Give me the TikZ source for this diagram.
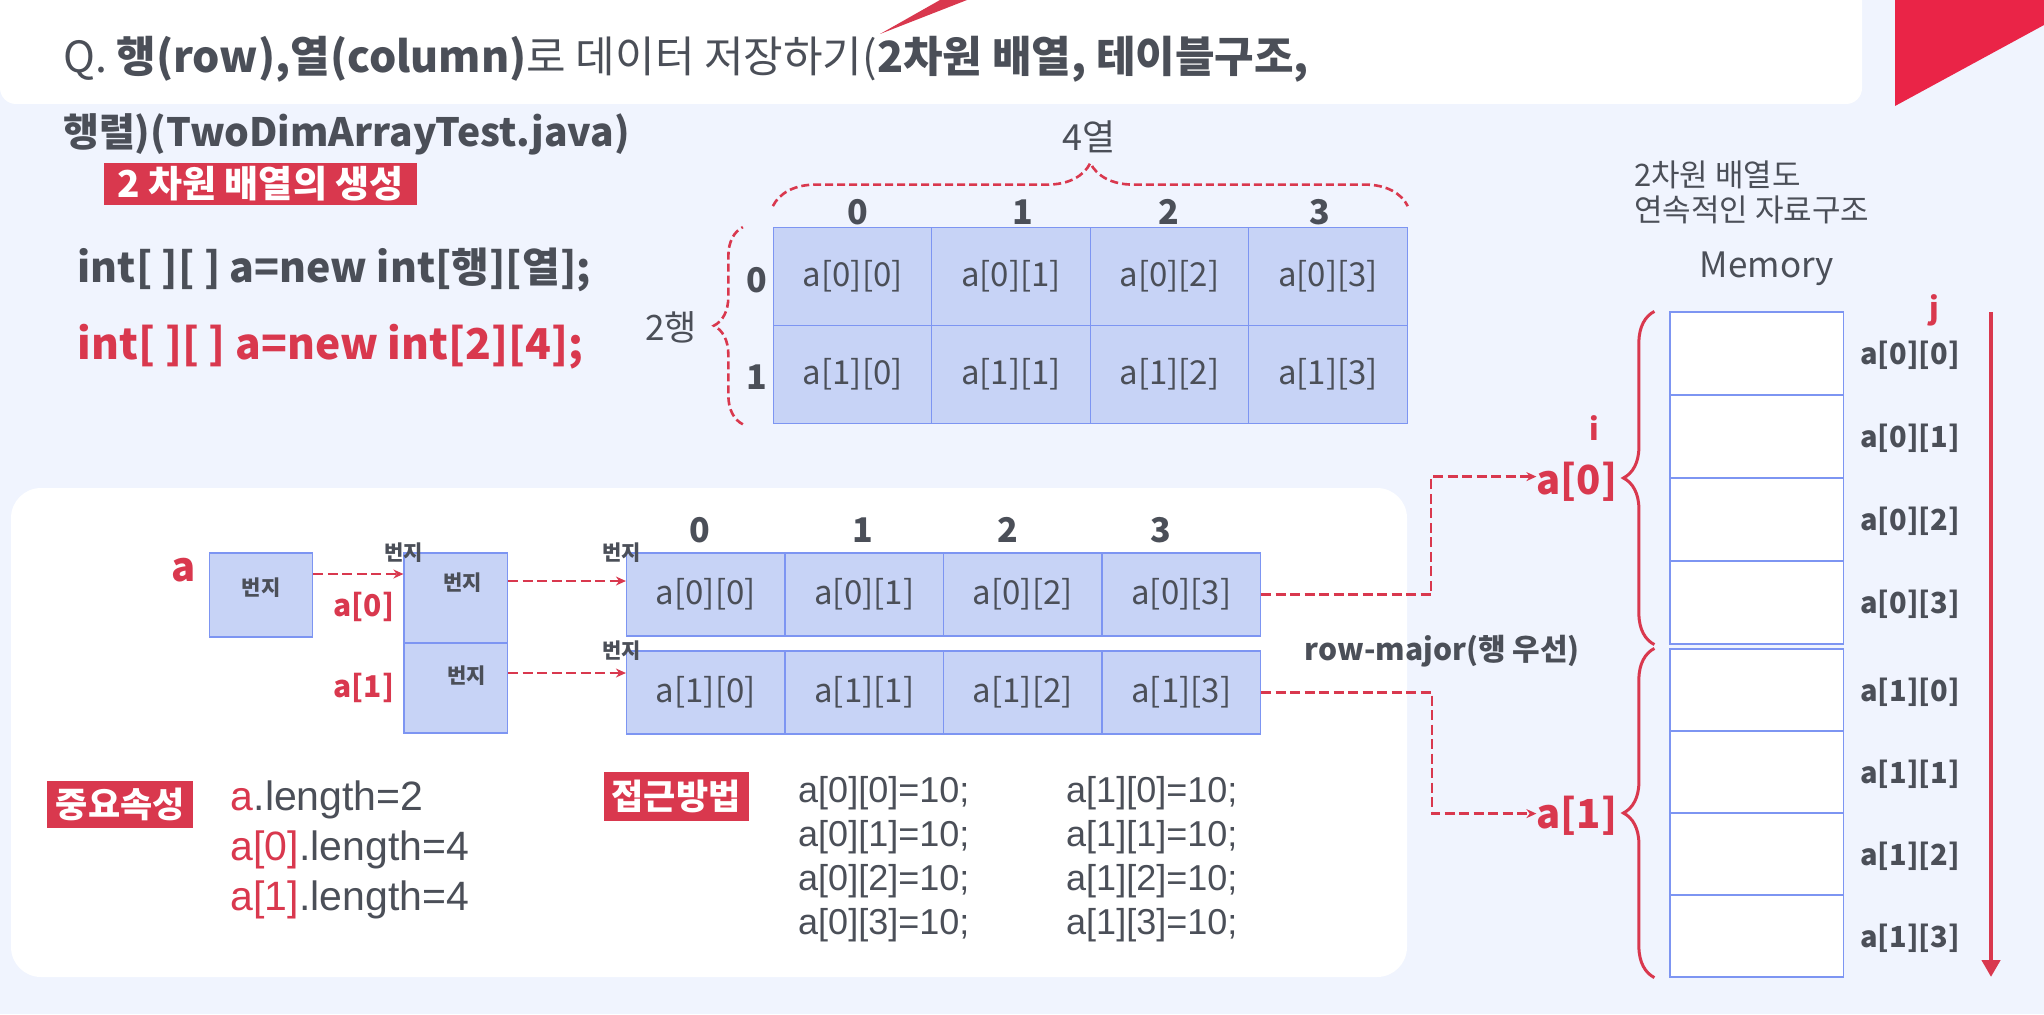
\documentclass[tikz,border=0pt]{standalone}
\usepackage{fontspec}
\setmainfont{Noto Sans CJK KR}
\newfontfamily\arialfont{Liberation Sans}
\usetikzlibrary{arrows.meta,positioning,decorations.pathreplacing}

\definecolor{bgblue}{HTML}{F0F4FE}
\definecolor{hlred}{HTML}{D9384E}
\definecolor{cornerred}{HTML}{EA2447}
\definecolor{txtgray}{HTML}{4B4F58}
\definecolor{cellfill}{HTML}{C7D3F6}
\definecolor{cellline}{HTML}{7D95F2}

\newcommand{\fsz}[1]{\fontsize{#1}{#1}\selectfont}

\begin{document}
\begin{tikzpicture}[x=1pt, y=-1pt, >=Stealth,
    txt/.style={text=txtgray, inner sep=0pt},
    head/.style={txt, font=\fsz{34}\bfseries},
    cell/.style={draw=cellline, fill=cellfill, line width=1.2pt, inner sep=0pt,
        minimum width=158.5pt, text=txtgray, font=\fsz{33}},
    memcell/.style={draw=cellline, fill=white, line width=1.2pt, minimum width=173.5pt},
    memlbl/.style={txt, font=\fsz{29}\bfseries},
    addr/.style={txt, font=\fsz{21}\bfseries},
    redlbl/.style={text=hlred, inner sep=0pt, font=\fsz{30}\bfseries},
    tag/.style={fill=hlred, text=white, inner sep=0pt, font=\fsz{35}\bfseries},
    ptr/.style={->, hlred, line width=2.6pt, dash pattern=on 10pt off 4.5pt,
        >={Stealth[length=10pt,width=9pt]}},
    dbrace/.style={hlred, line width=2.6pt, dash pattern=on 8pt off 4pt, decorate},
    code/.style={txt, anchor=base west, font=\arialfont\fsz{36}}]

    % 배경
    \fill[bgblue] (0,0) rectangle (2044,1014);
    \useasboundingbox (0,0) rectangle (2044,1014);
    \fill[white, rounded corners=16pt] (0,-20) rectangle (1862,104);
    \fill[hlred] (880,34) -- (940,0) -- (967,0) -- cycle;
    \fill[cornerred] (1895,0) -- (2044,0) -- (2044,25) -- (1895,106) -- cycle;
    \fill[white, rounded corners=30pt] (11,488) rectangle (1407,977);

    % 제목
    \node[txt, anchor=west, font=\fsz{43}] (title1) at (63,59)
        {Q. \textbf{행(row),열(column)}로 데이터 저장하기(\textbf{2차원 배열, 테이블구조,}};
    \node[txt, anchor=west, font=\fsz{39}\bfseries] (title2) at (63,134) {행렬)(TwoDimArrayTest.java)};
    \node[tag, minimum width=313pt, minimum height=42pt, font=\fsz{37}\bfseries] (make) at (260.5,184) {2 차원 배열의 생성};

    % 선언문
    \node[txt, anchor=west, font=\fsz{41}\bfseries] (decl) at (77.6,270) {int[ ][ ] a=new int[행][열];};
    \node[txt, anchor=west, font=\fsz{42.5}\bfseries, text=hlred] (decl2) at (77.6,347) {int[ ][ ] a=new int[2][4];};

    % 2행 4열 표
    \foreach \r in {0,1}
        \foreach \c in {0,...,3}
            \node[cell, minimum height=98pt] (t\r\c) at ({852.7+\c*158.4},{276.7+\r*98}) {a[\r][\c]};
    \foreach \c/\x in {0/858,1/1023,2/1169,3/1320}
        \node[head] at (\x,212) {\c};
    \node[head] at (757,280) {0};
    \node[head] at (757,377) {1};
    \draw[dbrace, decoration={brace, amplitude=43pt}] ([yshift=21pt]t00.north west) -- ([yshift=21pt]t03.north east);
    \draw[dbrace, decoration={brace, amplitude=29pt}] ([xshift=-30pt]t10.south west) -- ([xshift=-30pt]t00.north west);
    \node[txt, font=\fsz{36}] (cols) at (1089,137) {4열};
    \node[txt, font=\fsz{35}] (rows) at (671,327) {2행};

    % 메모리
    \node[txt, anchor=west, font=\fsz{31}] (note1) at (1634,175) {2차원 배열도};
    \node[txt, anchor=west, font=\fsz{31}] (note2) at (1634,210) {연속적인 자료구조};
    \node[txt, font=\fsz{35}] (memory) at (1767,269) {Memory};
    \foreach \g/\top/\h in {0/312/83,1/649/82}
        \foreach \k in {0,...,3} {
            \node[memcell, minimum height=\h pt] (m\g\k) at (1756.75,{\top+\h/2+\k*\h}) {};
            \node[memlbl, right=16pt of m\g\k, yshift=-2pt] {a[\g][\k]};
        }
    \draw[hlred, line width=3pt, decorate, decoration={brace, amplitude=31pt}] ([xshift=-15pt]m03.south west) -- ([xshift=-15pt]m00.north west);
    \draw[hlred, line width=3pt, decorate, decoration={brace, amplitude=31pt}] ([xshift=-15pt]m13.south west) -- ([xshift=-15pt]m10.north west);
    \node[redlbl, font=\fsz{40}\bfseries, left=52pt of m01.south west, yshift=-3pt] (mem0) {a[0]};
    \node[redlbl, font=\fsz{40}\bfseries, left=52pt of m11.south west, yshift=-2pt] (mem1) {a[1]};
    \node[redlbl] (idx) at (1594,428) {i};
    \node[redlbl] (jdx) at (1934,310) {j};
    \coordinate (jtop) at (1991,312);
    \coordinate (jbot) at (1991,977);
    \draw[hlred, line width=4.5pt, -{Triangle[length=17pt,width=18pt]}] (jtop) -- (jbot);

    % 참조 구조
    \node[cell, minimum width=103.5pt, minimum height=84pt] (abox) at (261,595) {};
    \node[cell, minimum width=103.6pt, minimum height=90pt] (pa0) at (455.8,598) {};
    \node[cell, minimum width=103.6pt, minimum height=90pt] (pa1) at (455.8,688) {};
    \node[addr] at ([yshift=7pt]abox.center) {번지};
    \node[addr] at ([xshift=7pt,yshift=15pt]pa0.center) {번지};
    \node[addr] at ([xshift=11pt,yshift=12pt]pa1.center) {번지};
    \node[redlbl, font=\fsz{40}\bfseries, left=13pt of abox.west, yshift=25pt] (aname) {a};
    \node[redlbl, left=9pt of pa0.west, yshift=-9pt] (a0name) {a[0]};
    \node[redlbl, left=9pt of pa1.west] (a1name) {a[1]};
    \node[addr] at (pa0.north west) {번지};
    \foreach \r/\top in {0/553,1/651}
        \foreach \c in {0,...,3}
            \node[cell, minimum height=83pt] (r\r\c) at ({705.75+\c*158.5},{\top+41.5}) {a[\r][\c]};
    \foreach \c/\x in {0/700,1/863,2/1008,3/1161}
        \node[head] at (\x,530) {\c};
    \node[addr] at ([xshift=-4pt]r00.north west) {번지};
    \node[addr] at ([xshift=-4pt]r10.north west) {번지};

    \draw[ptr] ([yshift=21pt]abox.east) -- ([yshift=21pt]abox.east -| pa0.west);
    \draw[ptr] ([yshift=17pt]pa0.east) -- ([yshift=17pt]pa0.east -| r00.west);
    \draw[ptr] ([yshift=15pt]pa1.east) -- ([yshift=15pt]pa1.east -| r10.west);
    \draw[ptr] (r03.east) -- ++(170,0) |- ([yshift=5pt]mem0.west);
    \draw[ptr] (r13.east) -- ++(171,0) |- ([yshift=2pt]mem1.west);
    \node[txt, anchor=east, font=\fsz{30}\bfseries] (rmajor) at (1580,651) {row-major(행 우선)};

    % 중요속성, 접근방법
    \node[tag, minimum width=146pt, minimum height=47pt] (attr) at (120.2,804.4) {중요속성};
    \node[tag, minimum width=145pt, minimum height=49pt] (access) at (676,796.4) {접근방법};
    \node[code, font=\arialfont\fsz{41}] at (230.6,810) {\textcolor{hlred}{a}.length=2};
    \node[code, font=\arialfont\fsz{41}] at (230.6,860) {\textcolor{hlred}{a[0]}.length=4};
    \node[code, font=\arialfont\fsz{41}] at (230.6,910) {\textcolor{hlred}{a[1]}.length=4};
    \foreach \k/\y in {0/802,1/846,2/890,3/934} {
        \node[code] at (798,\y) {a[0][\k]=10;};
        \node[code] at (1066,\y) {a[1][\k]=10;};
    }
\end{tikzpicture}
\end{document}
